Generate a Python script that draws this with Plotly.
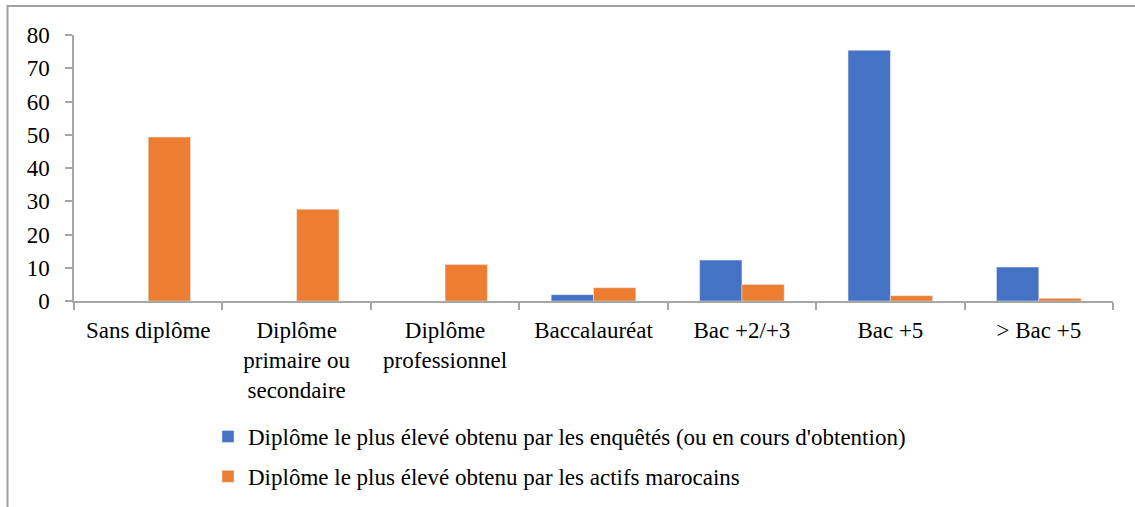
import plotly.graph_objects as go

categories = ["Sans diplôme", "Diplôme<br>primaire ou<br>secondaire", "Diplôme<br>professionnel",
              "Baccalauréat", "Bac +2/+3", "Bac +5", "> Bac +5"]
enquetes = [None, None, None, 1.9, 12.3, 75.4, 10.2]
actifs = [49.3, 27.6, 11.0, 4.0, 5.0, 1.6, 0.8]
y_ticks = [0, 10, 20, 30, 40, 50, 60, 70, 80]

name_enq = "Diplôme le plus élevé obtenu par les enquêtés (ou en cours d'obtention)"
name_act = "Diplôme le plus élevé obtenu par les actifs marocains"

FONT = "Liberation Serif"
FS = 23
GRAY = "#A6A6A6"

fig = go.Figure()
fig.add_trace(go.Bar(x=categories, y=enquetes, name=name_enq, marker_color="#4472C4",
                     legendgroup="a"))
fig.add_trace(go.Bar(x=categories, y=actifs, name=name_act, marker_color="#ED7D31",
                     legendgroup="b"))

W, H = 1135, 507
L, R, T, B = 74, 22, 35, 206
pw, ph = W - L - R, H - T - B

def px_x(p):
    return (p - L) / pw

def px_y(p):
    return (H - B - p) / ph

fig.update_layout(
    width=W, height=H,
    margin=dict(l=L, r=R, t=T, b=B, autoexpand=False),
    paper_bgcolor="white", plot_bgcolor="white",
    font=dict(family=FONT, size=FS, color="black"),
    barmode="group", bargap=0.43, bargroupgap=0,
    showlegend=True,
    legend=dict(orientation="v", x=px_x(208), xanchor="left", y=px_y(415), yanchor="top",
                font=dict(family=FONT, size=FS), tracegroupgap=7, bgcolor="rgba(0,0,0,0)"),
    xaxis=dict(showline=True, linecolor=GRAY, linewidth=1.5, ticks="outside", tickson="boundaries",
               ticklen=7, tickcolor=GRAY, tickwidth=1.5, showgrid=False, fixedrange=True,
               ticklabelstandoff=8, tickfont=dict(family=FONT, size=FS)),
    yaxis=dict(range=[0, 80], tickvals=y_ticks, showline=True, linecolor=GRAY, linewidth=1.5,
               ticks="outside", ticklen=7, tickcolor=GRAY, tickwidth=1.5, showgrid=False,
               zeroline=False, ticklabelstandoff=11, tickfont=dict(family=FONT, size=FS)),
    shapes=[
        dict(type="line", xref="paper", yref="paper", x0=px_x(7.5), x1=px_x(1140),
             y0=px_y(6), y1=px_y(6), line=dict(color="#A0A0A0", width=2)),
        dict(type="line", xref="paper", yref="paper", x0=px_x(7.5), x1=px_x(7.5),
             y0=px_y(5), y1=px_y(510), line=dict(color="#A0A0A0", width=2)),
    ],
)

fig.write_html("out.html", config={"displayModeBar": False},
               post_script="document.body.style.margin='0';")
